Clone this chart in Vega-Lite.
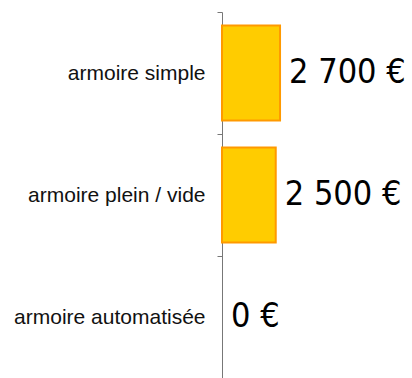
{
  "$schema": "https://vega.github.io/schema/vega-lite/v6.json",
  "autosize": {"type": "none"},
  "padding": {"left": 222, "top": 12, "right": 0, "bottom": 0},
  "width": 190,
  "height": 366,
  "background": "white",
  "config": {"view": {"stroke": null}},
  "data": {
    "values": [
      {"type": "armoire simple", "cost": 2700, "label": "2 700 €"},
      {"type": "armoire plein / vide", "cost": 2500, "label": "2 500 €"},
      {"type": "armoire automatisée", "cost": 0, "label": "0 €"}
    ]
  },
  "encoding": {
    "y": {
      "field": "type",
      "type": "nominal",
      "sort": null,
      "scale": {"paddingInner": 0, "paddingOuter": 0},
      "axis": {
        "title": null,
        "tickBand": "extent",
        "domainColor": "#777777",
        "tickColor": "#777777",
        "tickSize": 5,
        "labelPadding": 12,
        "labelFont": "Liberation Sans",
        "labelFontSize": 21,
        "labelColor": "#111111",
        "labelLimit": 300
      }
    },
    "x": {
      "field": "cost",
      "type": "quantitative",
      "scale": {"domain": [0, 8840], "nice": false, "zero": true},
      "axis": null
    }
  },
  "layer": [
    {
      "transform": [{"filter": "datum.cost > 0"}],
      "mark": {"type": "bar", "height": {"band": 0.78}, "fill": "#FFCC00", "stroke": "#FF9900", "strokeWidth": 2}
    },
    {
      "mark": {
        "type": "text",
        "align": "left",
        "baseline": "middle",
        "dx": 9,
        "font": "DejaVu Sans Condensed",
        "fontSize": 34,
        "color": "#000000"
      },
      "encoding": {"text": {"field": "label"}}
    }
  ]
}
